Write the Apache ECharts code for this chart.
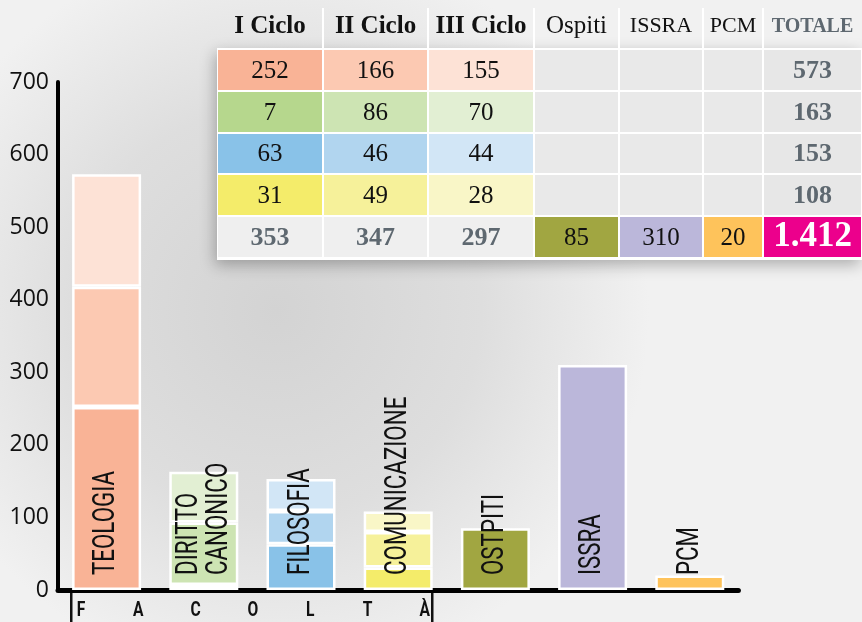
<!DOCTYPE html>
<html><head><meta charset="utf-8">
<script src="https://cdn.jsdelivr.net/npm/echarts@6/dist/echarts.min.js"></script>
<style>html,body{margin:0;padding:0;background:#eaeaea;} #c{width:862px;height:622px;}</style>
</head><body><div id="c"></div>
<script>
// ---- data ----
const categories = ['TEOLOGIA', 'DIRITTO\nCANONICO', 'FILOSOFIA', 'COMUNICAZIONE', 'OSTPITI', 'ISSRA', 'PCM'];
const ciclo1 = [252, 7, 63, 31];
const ciclo2 = [166, 86, 46, 49];
const ciclo3 = [155, 70, 44, 28];
const others = [85, 310, 20];          // Ospiti, ISSRA, PCM
const headers = ['I Ciclo', 'II Ciclo', 'III Ciclo', 'Ospiti', 'ISSRA', 'PCM', 'TOTALE'];
const axisLetters = ['F', 'A', 'C', 'O', 'L', 'T', 'À'];
const yMin = 0, yMax = 700, yStep = 100;

// ---- styles ----
const shade1 = ['#F9B396', '#B6D78D', '#89C2E8', '#F4EC6A'];
const shade2 = ['#FCC9B2', '#CDE4B3', '#B1D5EF', '#F6F19A'];
const shade3 = ['#FDE2D6', '#E2EFD3', '#D2E6F6', '#F9F6C7'];
const otherColors = ['#A1A641', '#BBB7DA', '#FEC35B'];
const condFont = "Roboto, 'Liberation Sans', sans-serif";
const serif = "'Liberation Serif', 'DejaVu Serif', serif";
const grey = '#5E6870';

// derived totals
const rowTotals = ciclo1.map((v, i) => v + ciclo2[i] + ciclo3[i]);
const colTotals = [ciclo1, ciclo2, ciclo3].map(a => a.reduce((s, v) => s + v, 0));
const grand = rowTotals.reduce((s, v) => s + v, 0) + others.reduce((s, v) => s + v, 0);
const grandLabel = grand.toLocaleString('de-DE');

const chart = echarts.init(document.getElementById('c'));

const s1 = ciclo1.map((v, i) => ({ value: v, itemStyle: { color: shade1[i] } }))
  .concat(others.map((v, i) => ({ value: v, itemStyle: { color: otherColors[i] } })));
const s2 = ciclo2.map((v, i) => ({ value: v, itemStyle: { color: shade2[i] } })).concat(others.map(() => '-'));
const s3 = ciclo3.map((v, i) => ({ value: v, itemStyle: { color: shade3[i] } })).concat(others.map(() => '-'));

// ---- table graphics ----
const colX = [217, 323, 428, 534, 619, 703, 763, 862];
const rowY = [0, 49, 91, 133, 174, 216, 258];
const g = [];
function cellRect(c, r, fill, extra) {
  g.push(Object.assign({
    type: 'rect', z: 10,
    shape: { x: colX[c] + 1, y: rowY[r] + 1, width: colX[c + 1] - colX[c] - 2, height: rowY[r + 1] - rowY[r] - 2 },
    style: { fill: fill }
  }, extra || {}));
}
function cellText(c, r, text, font, fill, dy) {
  g.push({
    type: 'text', z: 12,
    x: (colX[c] + colX[c + 1]) / 2, y: (rowY[r] + rowY[r + 1]) / 2 + (dy || 0),
    style: { text: String(text), font: font, fill: fill, align: 'center', verticalAlign: 'middle' }
  });
}
g.push({ type: 'rect', z: 9, shape: { x: 217, y: 48, width: 645, height: 212 },
  style: { fill: '#ffffff', shadowBlur: 14, shadowColor: 'rgba(0,0,0,0.28)', shadowOffsetY: 5, shadowOffsetX: -2 } });
for (let i = 1; i < colX.length - 1; i++) {
  g.push({ type: 'rect', z: 10, shape: { x: colX[i] - 1, y: 8, width: 2, height: 41 }, style: { fill: '#ffffff' } });
}
const headFonts = ['bold 25px ' + serif, 'bold 25px ' + serif, 'bold 25px ' + serif,
  '25px ' + serif, '22px ' + serif, '22px ' + serif, 'bold 20px ' + serif];
headers.forEach((h, c) => cellText(c, 0, h, headFonts[c], c === 6 ? grey : '#111', 2));
const shadesByCol = [shade1, shade2, shade3];
const dataByCol = [ciclo1, ciclo2, ciclo3];
for (let r = 0; r < 4; r++) {
  for (let c = 0; c < 3; c++) {
    cellRect(c, r + 1, shadesByCol[c][r]);
    cellText(c, r + 1, dataByCol[c][r], '25px ' + serif, '#111', 1);
  }
  for (let c = 3; c < 6; c++) cellRect(c, r + 1, '#e9e9e9');
  cellRect(6, r + 1, '#e7e7e7');
  cellText(6, r + 1, rowTotals[r], 'bold 26px ' + serif, grey, 1);
}
for (let c = 0; c < 3; c++) {
  cellRect(c, 5, '#efefef');
  cellText(c, 5, colTotals[c], 'bold 26px ' + serif, grey, 1);
}
others.forEach((v, i) => {
  cellRect(3 + i, 5, otherColors[i]);
  cellText(3 + i, 5, v, '25px ' + serif, '#111', 1);
});
cellRect(6, 5, '#EC008C');
cellText(6, 5, grandLabel, 'bold 35px ' + serif, '#ffffff', 0);

// FACOLTÀ bracket
g.push({ type: 'rect', z: 5, shape: { x: 70, y: 593, width: 2.5, height: 29 }, style: { fill: '#111' } });
g.push({ type: 'rect', z: 5, shape: { x: 431, y: 593, width: 2.5, height: 29 }, style: { fill: '#111' } });
axisLetters.forEach((l, i) => {
  g.push({ type: 'text', z: 5, x: 81 + i * 57.3, y: 611, scaleX: 0.78,
    style: { text: l, font: 'bold 20px ' + condFont, fill: '#111', align: 'center', verticalAlign: 'middle' } });
});

const option = {
  animation: false,
  backgroundColor: new echarts.graphic.RadialGradient(0.32, 0.5, 0.6, [
    { offset: 0, color: '#d3d3d3' },
    { offset: 0.55, color: '#dedede' },
    { offset: 1, color: '#f1f1f1' }
  ]),
  grid: { left: 58, right: 123.6, top: 82, bottom: 32, outerBoundsMode: 'none' },
  xAxis: {
    type: 'category', data: categories,
    axisLine: { show: true, lineStyle: { color: '#000', width: 5 } },
    axisTick: { show: false }, axisLabel: { show: false }, splitLine: { show: false }
  },
  yAxis: {
    type: 'value', min: yMin, max: yMax, interval: yStep,
    axisLine: { show: true, lineStyle: { color: '#000', width: 4 } },
    axisTick: { show: false }, splitLine: { show: false },
    axisLabel: { color: '#111', fontSize: 23, fontFamily: "'Open Sans', 'Noto Sans', sans-serif", margin: 9 }
  },
  series: [
    { name: 'I Ciclo', type: 'bar', stack: 'tot', barWidth: 69, data: s1,
      itemStyle: { borderColor: '#fff', borderWidth: 2.5 } },
    { name: 'II Ciclo', type: 'bar', stack: 'tot', barWidth: 69, data: s2,
      itemStyle: { borderColor: '#fff', borderWidth: 2.5 } },
    { name: 'III Ciclo', type: 'bar', stack: 'tot', barWidth: 69, data: s3,
      itemStyle: { borderColor: '#fff', borderWidth: 2.5 } }
  ],
  graphic: g
};
chart.setOption(option);

// condensed vertical category labels, anchored to each bar through the axis scale
categories.forEach((name, i) => {
  const p = chart.convertToPixel({ gridIndex: 0 }, [i, 0]);
  g.push({
    type: 'text', z: 20, x: p[0], y: p[1] - 15,
    rotation: Math.PI / 2, scaleX: 0.72,
    style: { text: name, font: '31px ' + condFont, lineHeight: 30, fill: '#111', align: 'left', verticalAlign: 'middle' }
  });
});
chart.setOption({ graphic: g });
</script></body></html>
